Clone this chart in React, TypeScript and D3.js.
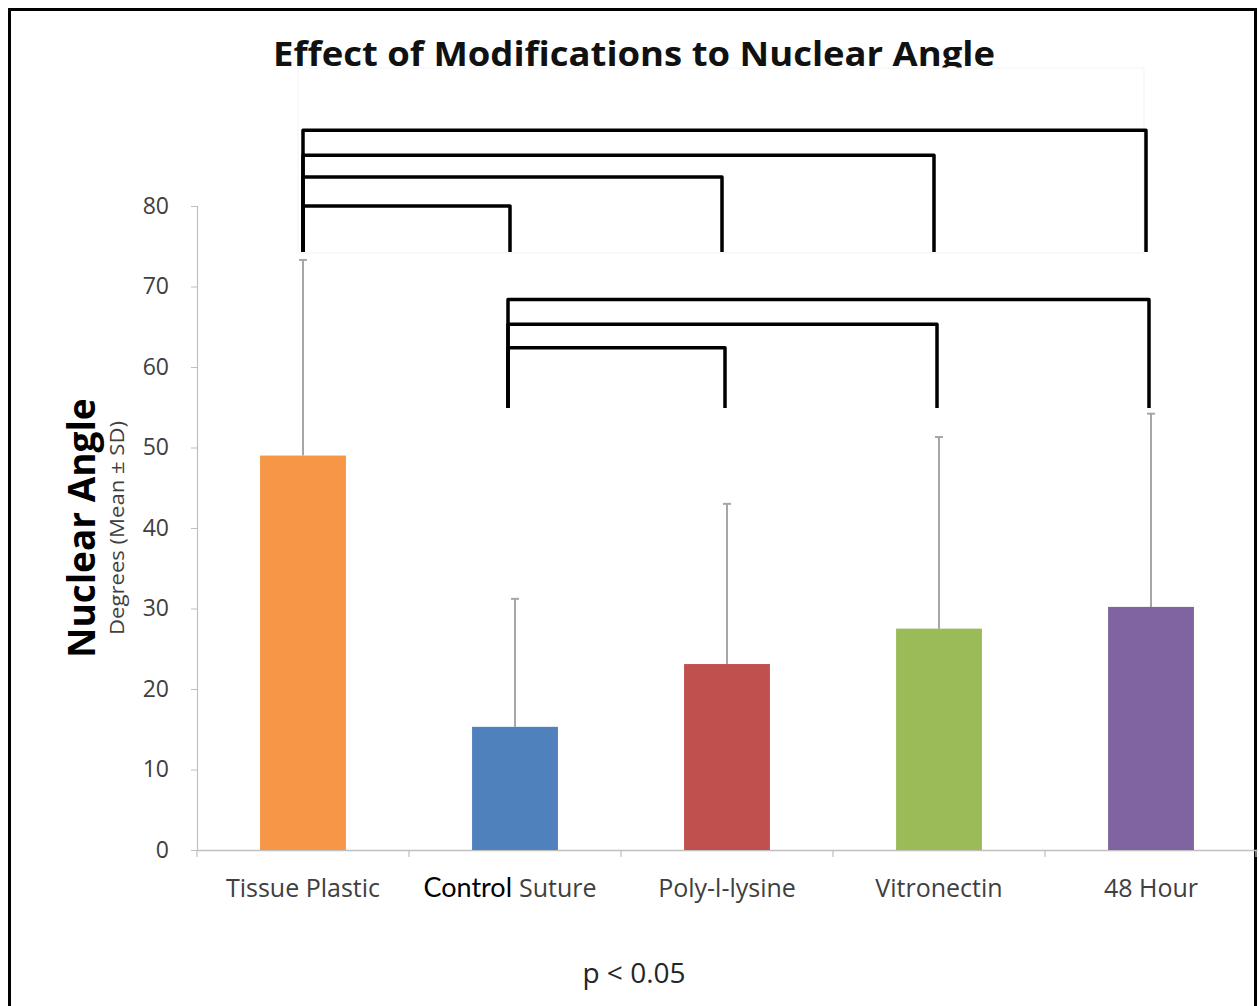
import React, { useEffect, useRef } from 'react';
import * as d3 from 'd3';

const categories = ['Tissue Plastic', 'Control Suture', 'Poly-l-lysine', 'Vitronectin', '48 Hour'];
const means = [49.0, 15.3, 23.1, 27.5, 30.2];
const sds = [24.3, 15.9, 19.9, 23.8, 24.0];
const colors = ['#F79646', '#4F81BD', '#C0504D', '#9BBB59', '#8064A2'];
const yTicks = [0, 10, 20, 30, 40, 50, 60, 70, 80];

// significance brackets: [from, to, bar level, leg bottom]
const brackets: [number, number, number, number][] = [
  [0, 4, 89.4, 74.3],
  [0, 3, 86.3, 74.3],
  [0, 2, 83.6, 74.3],
  [0, 1, 80.0, 74.3],
  [1, 4, 68.4, 54.9],
  [1, 3, 65.3, 54.9],
  [1, 2, 62.4, 54.9],
];

const W = 1259;
const H = 1006;

const App = () => {
  const ref = useRef<SVGSVGElement>(null);

  useEffect(() => {
    const svg = d3.select(ref.current);
    svg.selectAll('*').remove();

    const x = d3.scaleBand().domain(categories).range([197, 1257]).padding(0);
    const y = d3.scaleLinear().domain([0, 80]).range([850, 206]);
    const barW = x.bandwidth() * 0.405;
    const cx = (i: number) => (x(categories[i]) as number) + x.bandwidth() / 2;

    // outer frame
    svg.append('rect')
      .attr('x', 9.5).attr('y', 9.5)
      .attr('width', 1246).attr('height', 1010)
      .attr('fill', 'none').attr('stroke', '#000').attr('stroke-width', 3);

    // title
    svg.append('text')
      .attr('x', 634).attr('y', 66)
      .attr('text-anchor', 'middle')
      .attr('font-family', 'Open Sans, sans-serif')
      .attr('font-weight', 700)
      .attr('font-size', 34)
      .attr('textLength', 722)
      .attr('lengthAdjust', 'spacingAndGlyphs')
      .attr('fill', '#111')
      .text('Effect of Modifications to Nuclear Angle');

    // pasted bracket area (white, faint edge) clips title descenders
    svg.append('rect')
      .attr('x', 298).attr('y', 68)
      .attr('width', 846).attr('height', 185)
      .attr('fill', '#fff').attr('stroke', '#f3f3f3').attr('stroke-width', 1);

    // y axis
    const yAxis = svg.append('g')
      .attr('transform', 'translate(197,0)')
      .call(d3.axisLeft(y).tickValues(yTicks).tickSize(6).tickPadding(22));
    yAxis.select('.domain').attr('stroke', '#bfbfbf').attr('stroke-width', 1.2);
    yAxis.selectAll('.tick line').attr('stroke', '#bfbfbf');
    yAxis.selectAll('.tick text')
      .attr('font-family', 'Open Sans, sans-serif')
      .attr('font-size', 23)
      .attr('fill', '#404040');

    // x axis
    const xAxis = svg.append('g')
      .attr('transform', 'translate(0,850)')
      .call(d3.axisBottom(x).tickSize(0).tickFormat(() => ''));
    xAxis.select('.domain').attr('stroke', '#bfbfbf').attr('stroke-width', 1.5);
    xAxis.selectAll('.tick').remove();
    const bounds = [...categories.map(c => x(c) as number), 1256];
    xAxis.selectAll('line.sep')
      .data(bounds)
      .enter()
      .append('line')
      .attr('class', 'sep')
      .attr('x1', d => d).attr('x2', d => d)
      .attr('y1', 0).attr('y2', 7)
      .attr('stroke', '#bfbfbf').attr('stroke-width', 1.2);

    // category labels
    const lab = svg.append('g')
      .attr('font-family', 'Open Sans, sans-serif')
      .attr('font-size', 25)
      .attr('fill', '#404040')
      .attr('text-anchor', 'middle');
    categories.forEach((c, i) => {
      const t = lab.append('text').attr('x', cx(i)).attr('y', 897);
      if (c === 'Control Suture') {
        t.attr('x', cx(i) - 5);
        t.append('tspan').attr('fill', '#000').attr('font-family', 'Lato, sans-serif').attr('font-size', 27).text('Control ');
        t.append('tspan').text('Suture');
      } else {
        t.text(c);
      }
    });

    // error bars
    const err = svg.append('g').attr('stroke', '#a6a6a6').attr('stroke-width', 2);
    means.forEach((m, i) => {
      err.append('line')
        .attr('x1', cx(i)).attr('x2', cx(i))
        .attr('y1', y(m)).attr('y2', y(m + sds[i]));
      err.append('line')
        .attr('x1', cx(i) - 4).attr('x2', cx(i) + 4)
        .attr('y1', y(m + sds[i])).attr('y2', y(m + sds[i]));
    });

    // bars
    svg.selectAll('rect.bar')
      .data(means)
      .enter()
      .append('rect')
      .attr('class', 'bar')
      .attr('x', (d, i) => cx(i) - barW / 2)
      .attr('y', d => y(d))
      .attr('width', barW)
      .attr('height', d => y(0) - y(d))
      .attr('fill', (d, i) => colors[i]);

    // significance brackets
    const line = d3.line<[number, number]>();
    const br = svg.append('g')
      .attr('fill', 'none').attr('stroke', '#000').attr('stroke-width', 3.5)
      .attr('stroke-linejoin', 'round');
    brackets.forEach(([a, b, lvl, foot]) => {
      const x0 = cx(a) - (a > 0 ? 7 : 0);
      const x1 = cx(b) - (a > 0 ? 2 : 5);
      br.append('path').attr('d', line([
        [x0, y(foot)],
        [x0, y(lvl)],
        [x1, y(lvl)],
        [x1, y(foot)],
      ]));
    });

    // y axis titles
    svg.append('text')
      .attr('transform', 'translate(95,528) rotate(-90)')
      .attr('text-anchor', 'middle')
      .attr('font-family', 'Open Sans, sans-serif')
      .attr('font-weight', 700)
      .attr('font-size', 37)
      .attr('fill', '#000')
      .text('Nuclear Angle');
    svg.append('text')
      .attr('transform', 'translate(124,528) rotate(-90)')
      .attr('text-anchor', 'middle')
      .attr('font-family', 'Open Sans, sans-serif')
      .attr('font-size', 20)
      .attr('textLength', 214)
      .attr('lengthAdjust', 'spacingAndGlyphs')
      .attr('fill', '#404040')
      .text('Degrees (Mean ± SD)');

    // footnote
    svg.append('text')
      .attr('x', 634).attr('y', 983)
      .attr('text-anchor', 'middle')
      .attr('font-family', 'Open Sans, sans-serif')
      .attr('font-size', 28)
      .attr('fill', '#262626')
      .text('p < 0.05');
  }, []);

  return (
    <svg
      ref={ref}
      width={W}
      height={H}
      style={{ position: 'absolute', left: 0, top: 0, background: '#fff' }}
    />
  );
};

export default App;
